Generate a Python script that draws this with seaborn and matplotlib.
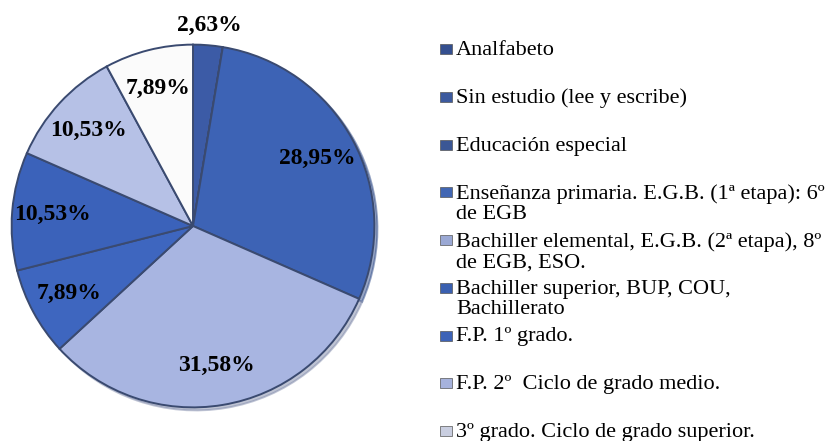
import matplotlib
matplotlib.use("Agg")
import matplotlib.pyplot as plt
import seaborn as sns
import numpy as np
from matplotlib.patches import Rectangle

# data
categorias = [
    "Analfabeto",
    "Sin estudio (lee y escribe)",
    "Educación especial",
    "Enseñanza primaria. E.G.B. (1ª etapa): 6º\nde EGB",
    "Bachiller elemental, E.G.B. (2ª etapa), 8º\nde EGB, ESO.",
    "Bachiller superior, BUP, COU,\nBachillerato",
    "F.P. 1º grado.",
    "F.P. 2º  Ciclo de grado medio.",
    "3º grado. Ciclo de grado superior.",
]
porcentajes = [2.63, 0, 0, 28.95, 31.58, 7.89, 10.53, 10.53, 7.89]
colores = ["#3c5ba6", "#3c5a9e", "#3b5795", "#3d63b5", "#a8b5e1",
           "#3e66bf", "#3b62ba", "#b6c1e6", "#fbfbfb"]
colores_leyenda = ["#344f8f", "#3c5a9e", "#3b5795", "#4166b3", "#9aa8d4",
                   "#3a60b0", "#3d63b7", "#a6b2dc", "#c9cee0"]

sns.set_theme(style="white")
plt.rcParams['font.family'] = ['Liberation Serif', 'DejaVu Serif']

fig = plt.figure(figsize=(8.35, 4.41), dpi=100)
ax = fig.add_axes([8 / 835, 1 - 411 / 441, 370 / 835, 370 / 441])

def fmt(p):
    return "" if p < 0.5 else f"{p:.2f}%".replace(".", ",")

wedges, texts, autotexts = ax.pie(
    porcentajes, colors=colores, startangle=90, counterclock=False,
    autopct=fmt, pctdistance=0.78, radius=1.0,
    wedgeprops=dict(edgecolor="#3a4a70", linewidth=1.4),
    textprops=dict(fontsize=17, fontweight="bold", color="black"),
    shadow=dict(ox=0.012, oy=-0.012, shade=0.25),
)

# small slice label goes outside the pie
for w, t, p in zip(wedges, autotexts, porcentajes):
    if 0 < p < 5:
        ang = np.deg2rad((w.theta1 + w.theta2) / 2)
        t.set_position((1.11 * np.cos(ang), 1.11 * np.sin(ang)))

ax.set_xlim(-1.02, 1.02)
ax.set_ylim(-1.02, 1.02)
ax.set_aspect("equal")
ax.axis("off")

# legend drawn by hand to keep the uneven spacing
for i, (cat, col) in enumerate(zip(categorias, colores_leyenda)):
    yc = 49 + i * 47.75
    fig.add_artist(Rectangle((440 / 835, 1 - (yc + 5) / 441), 12 / 835, 10 / 441,
                             transform=fig.transFigure, facecolor=col,
                             edgecolor="#555555", linewidth=0.5))
    fig.text(456 / 835, 1 - (yc - 8) / 441, cat, fontsize=16, va="top",
             ha="left", linespacing=1.1, color="black")

fig.savefig("out.png", dpi=100)
